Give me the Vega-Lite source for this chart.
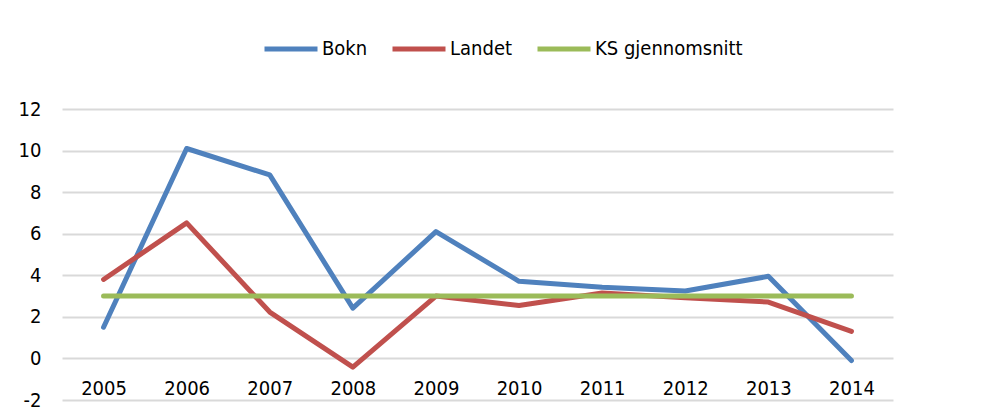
{
  "$schema": "https://vega.github.io/schema/vega-lite/v6.json",
  "width": 831,
  "height": 291,
  "autosize": {"type": "none"},
  "padding": {"left": 62, "top": 109, "right": 110, "bottom": 12},
  "background": "white",
  "data": {"values": [
    {"year": "2005", "series": "Bokn", "value": 1.5},
    {"year": "2006", "series": "Bokn", "value": 10.1},
    {"year": "2007", "series": "Bokn", "value": 8.83},
    {"year": "2008", "series": "Bokn", "value": 2.42},
    {"year": "2009", "series": "Bokn", "value": 6.1},
    {"year": "2010", "series": "Bokn", "value": 3.71},
    {"year": "2011", "series": "Bokn", "value": 3.42},
    {"year": "2012", "series": "Bokn", "value": 3.24},
    {"year": "2013", "series": "Bokn", "value": 3.95},
    {"year": "2014", "series": "Bokn", "value": -0.1},
    {"year": "2005", "series": "Landet", "value": 3.8},
    {"year": "2006", "series": "Landet", "value": 6.52},
    {"year": "2007", "series": "Landet", "value": 2.23},
    {"year": "2008", "series": "Landet", "value": -0.42},
    {"year": "2009", "series": "Landet", "value": 3.0},
    {"year": "2010", "series": "Landet", "value": 2.55},
    {"year": "2011", "series": "Landet", "value": 3.15},
    {"year": "2012", "series": "Landet", "value": 2.92},
    {"year": "2013", "series": "Landet", "value": 2.71},
    {"year": "2014", "series": "Landet", "value": 1.3},
    {"year": "2005", "series": "KS gjennomsnitt", "value": 3.0},
    {"year": "2006", "series": "KS gjennomsnitt", "value": 3.0},
    {"year": "2007", "series": "KS gjennomsnitt", "value": 3.0},
    {"year": "2008", "series": "KS gjennomsnitt", "value": 3.0},
    {"year": "2009", "series": "KS gjennomsnitt", "value": 3.0},
    {"year": "2010", "series": "KS gjennomsnitt", "value": 3.0},
    {"year": "2011", "series": "KS gjennomsnitt", "value": 3.0},
    {"year": "2012", "series": "KS gjennomsnitt", "value": 3.0},
    {"year": "2013", "series": "KS gjennomsnitt", "value": 3.0},
    {"year": "2014", "series": "KS gjennomsnitt", "value": 3.0}
  ]},
  "mark": {"type": "line", "strokeWidth": 5, "strokeCap": "round", "strokeJoin": "round"},
  "encoding": {
    "x": {
      "field": "year", "type": "ordinal",
      "scale": {"type": "point", "padding": 0.5},
      "axis": {
        "title": null, "labelAngle": 0, "ticks": false, "domain": false, "grid": false,
        "offset": -42, "labelPadding": 20, "labelFont": "DejaVu Sans Condensed",
        "labelFontSize": 20, "labelColor": "#000000"
      }
    },
    "y": {
      "field": "value", "type": "quantitative",
      "scale": {"domain": [-2, 12], "nice": false, "zero": false},
      "axis": {
        "title": null, "values": [-2, 0, 2, 4, 6, 8, 10, 12], "ticks": false, "domain": false,
        "gridColor": "#D9D9D9", "gridWidth": 2, "labelPadding": 21,
        "labelExpr": "replace(datum.label, '\u2212', '-')",
        "labelFont": "DejaVu Sans Condensed", "labelFontSize": 20, "labelColor": "#000000"
      }
    },
    "color": {
      "field": "series", "type": "nominal",
      "scale": {"domain": ["Bokn", "Landet", "KS gjennomsnitt"], "range": ["#4F81BD", "#C0504D", "#9BBB59"]},
      "legend": {
        "title": null, "orient": "none", "direction": "horizontal",
        "legendX": 200, "legendY": -89,
        "symbolType": "stroke", "symbolSize": 2809, "symbolStrokeWidth": 5,
        "labelOffset": 2, "columnPadding": 14,
        "labelFont": "DejaVu Sans Condensed", "labelFontSize": 20, "labelColor": "#000000"
      }
    }
  },
  "config": {"view": {"stroke": null}}
}
